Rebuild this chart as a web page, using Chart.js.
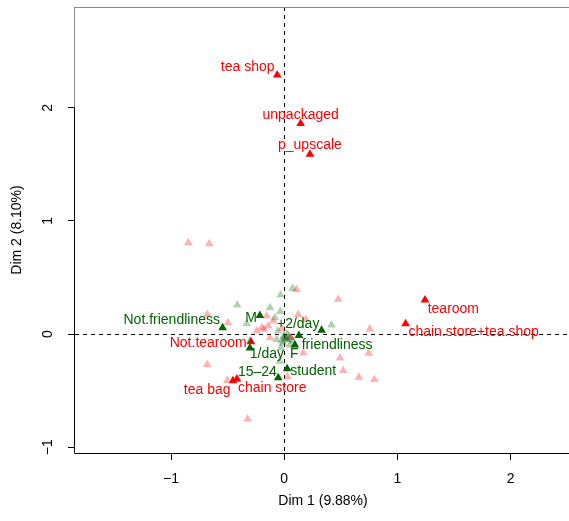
<!DOCTYPE html>
<html>
<head>
<meta charset="utf-8">
<script src="https://cdn.jsdelivr.net/npm/chart.js@4/dist/chart.umd.min.js"></script>
<style>
html,body{margin:0;padding:0;background:#fff;overflow:hidden;width:569px;height:521px;}
canvas{display:block;}
</style>
</head>
<body>
<canvas id="c" width="576" height="521"></canvas>
<script>
// ---- data ----
const xTicks = [-1, 0, 1, 2];
const yTicks = [-1, 0, 1, 2];
const xTitle = 'Dim 1 (9.88%)';
const yTitle = 'Dim 2 (8.10%)';

// highlighted red categories
const redLabels = ['tea shop', 'unpackaged', 'p_upscale', 'tearoom', 'chain.store+tea.shop', 'Not.tearoom', 'tea bag', 'chain store'];
const redX = [-0.062, 0.145, 0.227, 1.243, 1.072, -0.294, -0.453, -0.418];
const redY = [2.289, 1.861, 1.590, 0.301, 0.091, -0.068, -0.412, -0.398];

// highlighted green categories
const greenLabels = ['Not.friendliness', 'M', '+2/day', 'friendliness', '1/day', 'F', '15\u201324', 'student'];
const greenX = [-0.544, -0.215, 0.330, 0.130, -0.303, 0.094, -0.053, 0.026];
const greenY = [0.056, 0.164, 0.033, -0.012, -0.124, -0.097, -0.387, -0.307];

// faded red categories (unlabelled)
const pinkX = [-0.847, -0.662, -0.678, -0.497, -0.680, -0.503, -0.323, 0.108, 0.477, 0.124, 0.756, 0.492, 0.746, 0.521, 0.659, 0.796, 0.168, 0.028, -0.155, -0.199, -0.141, -0.097, -0.126, -0.244, -0.179, 0.190, 0.060, -0.020];
const pinkY = [0.808, 0.799, 0.174, 0.100, -0.268, -0.410, -0.750, 0.394, 0.307, 0.174, 0.044, -0.212, -0.170, -0.321, -0.382, -0.401, -0.168, -0.376, 0.159, 0.056, 0.071, 0.115, -0.033, 0.027, 0.042, 0.130, -0.030, 0.050];

// faded green categories (unlabelled)
const lightGreenX = [-0.415, -0.332, 0.074, -0.032, 0.418, -0.082, -0.035, -0.067, -0.038, 0.021, -0.011, 0.050, -0.303, -0.126, -0.056, 0.024, -0.030, 0.077, 0.000, 0.040, -0.020, 0.010, 0.035, -0.005, 0.055];
const lightGreenY = [0.257, 0.091, 0.404, 0.345, 0.080, 0.144, 0.199, -0.047, -0.239, -0.047, -0.080, -0.097, -0.062, 0.233, 0.027, 0.000, -0.124, -0.062, -0.030, -0.020, -0.060, -0.040, -0.050, -0.015, -0.030];

// ---- label placement (pixel offsets of label centre from marker) ----
const redLabelOffsets = [[-29.5,-7.6],[0,-8.7],[0,-9],[28.4,9.3],[68,8],[-42.7,1],[-25.8,9.3],[35.3,9.5]];
const greenLabelOffsets = [[-50.9,-7.7],[-8.8,2.2],[-23.4,-6.6],[38.2,10],[17,6.3],[-0.5,9.3],[-20.8,-6],[26,2.3]];

const FONT = '"Liberation Sans", Arial, Helvetica, sans-serif';
Chart.defaults.font.family = FONT;
Chart.defaults.font.size = 14;
Chart.defaults.color = '#000';

const pts = (xs, ys) => xs.map((x, i) => ({x: x, y: ys[i]}));
const minus = v => (v < 0 ? '\u2212' + Math.abs(v) : String(v));

const refLines = {
  id: 'refLines',
  beforeDatasetsDraw(chart) {
    const {ctx, chartArea: a, scales: {x, y}} = chart;
    ctx.save();
    ctx.strokeStyle = '#000';
    ctx.lineWidth = 1;
    ctx.setLineDash([4, 4]);
    const x0 = Math.round(x.getPixelForValue(0)) + 0.5;
    const y0 = Math.round(y.getPixelForValue(0)) + 0.5;
    ctx.beginPath();
    ctx.moveTo(x0, a.top); ctx.lineTo(x0, a.bottom);
    ctx.moveTo(a.left, y0); ctx.lineTo(a.right, y0);
    ctx.stroke();
    ctx.restore();
  },
  afterDraw(chart) {
    const {ctx, chartArea: a, scales: {y}} = chart;
    ctx.save();
    ctx.lineWidth = 1;
    ctx.setLineDash([]);
    ctx.strokeStyle = '#8a8a8a';
    ctx.beginPath();
    ctx.moveTo(a.left - 1, a.top + 0.5); ctx.lineTo(a.right, a.top + 0.5);
    ctx.stroke();
    const yTop = y.getPixelForValue(yTicks[yTicks.length - 1]);
    ctx.beginPath();
    ctx.moveTo(a.left - 0.5, a.top); ctx.lineTo(a.left - 0.5, yTop);
    ctx.stroke();
    ctx.strokeStyle = '#000';
    ctx.beginPath();
    ctx.moveTo(a.left - 0.5, yTop); ctx.lineTo(a.left - 0.5, a.bottom + 0.5);
    ctx.stroke();
    ctx.restore();
  }
};

const pointLabels = {
  id: 'pointLabels',
  afterDatasetsDraw(chart) {
    const {ctx} = chart;
    ctx.save();
    ctx.font = '14px ' + FONT;
    ctx.textAlign = 'center';
    ctx.textBaseline = 'middle';
    chart.data.datasets.forEach((ds, di) => {
      if (!ds.pointLabels) return;
      const meta = chart.getDatasetMeta(di);
      ctx.fillStyle = ds.labelColor;
      meta.data.forEach((el, i) => {
        const off = ds.labelOffsets[i];
        ctx.fillText(ds.pointLabels[i], el.x + off[0], el.y + off[1]);
      });
    });
    ctx.restore();
  }
};

const tri = {pointStyle: 'triangle', pointRadius: 5, pointHoverRadius: 5, borderWidth: 0};

new Chart(document.getElementById('c'), {
  type: 'scatter',
  data: {
    datasets: [
      Object.assign({label: 'faded red', data: pts(pinkX, pinkY), backgroundColor: 'rgba(255,0,0,0.3)', borderColor: 'rgba(0,0,0,0)'}, tri),
      Object.assign({label: 'faded green', data: pts(lightGreenX, lightGreenY), backgroundColor: 'rgba(0,100,0,0.3)', borderColor: 'rgba(0,0,0,0)'}, tri),
      Object.assign({label: 'red', data: pts(redX, redY), backgroundColor: '#FF0000', borderColor: 'rgba(0,0,0,0)',
        pointLabels: redLabels, labelOffsets: redLabelOffsets, labelColor: '#FF0000'}, tri),
      Object.assign({label: 'green', data: pts(greenX, greenY), backgroundColor: '#006400', borderColor: 'rgba(0,0,0,0)',
        pointLabels: greenLabels, labelOffsets: greenLabelOffsets, labelColor: '#006400'}, tri)
    ]
  },
  options: {
    responsive: false,
    animation: false,
    events: [],
    layout: {padding: {top: 7, right: 1, left: 0, bottom: 0}},
    plugins: {legend: {display: false}, tooltip: {enabled: false}},
    scales: {
      x: {
        type: 'linear', position: 'bottom',
        min: -1.848, max: 2.533,
        afterBuildTicks: s => { s.ticks = xTicks.map(v => ({value: v})); },
        afterFit: s => { s.height = 68; s.paddingLeft = 0; s.paddingRight = 0; },
        ticks: {padding: 10.6, minRotation: 0, maxRotation: 0, callback: v => minus(v), font: {size: 14}},
        grid: {display: true, drawOnChartArea: false, drawTicks: true, tickLength: 7, tickColor: '#000'},
        border: {display: true, color: '#000', width: 1},
        title: {display: true, text: xTitle, font: {size: 14}, padding: {top: 0, bottom: 11.6}}
      },
      y: {
        type: 'linear', position: 'left',
        min: -1.051, max: 2.891,
        afterBuildTicks: s => { s.ticks = yTicks.map(v => ({value: v})); },
        afterFit: s => { s.width = 75; s.paddingTop = 0; s.paddingBottom = 0; },
        ticks: {padding: 12, minRotation: 90, maxRotation: 90, crossAlign: 'center', callback: v => minus(v), font: {size: 14}},
        grid: {display: true, drawOnChartArea: false, drawTicks: true, tickLength: 7, tickColor: '#000'},
        border: {display: false},
        title: {display: true, text: yTitle, font: {size: 14}, padding: {top: 8.6, bottom: 0}}
      }
    }
  },
  plugins: [refLines, pointLabels]
});
</script>
</body>
</html>
